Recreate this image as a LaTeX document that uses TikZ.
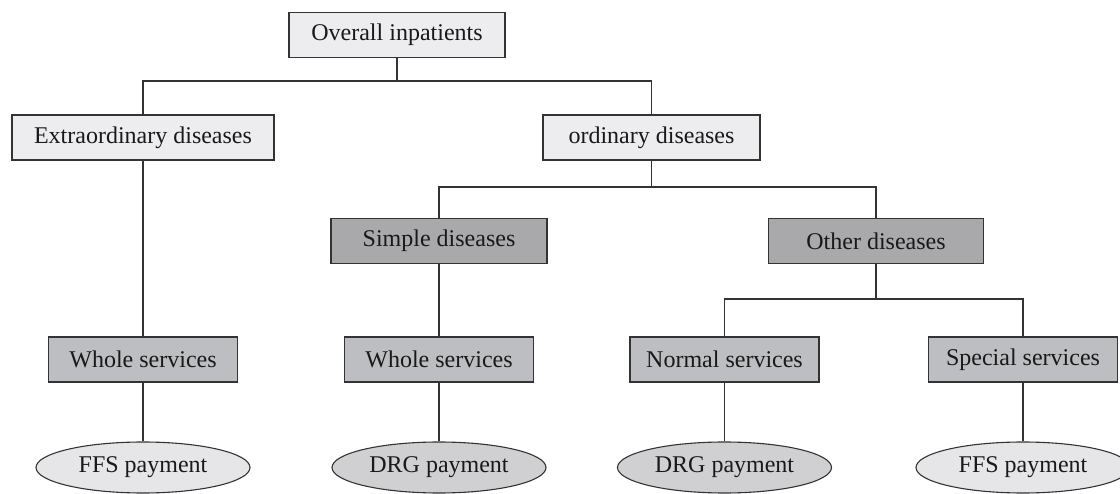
\documentclass[tikz,border=0pt]{standalone}
\usepackage{fontspec}
\setmainfont{Liberation Serif}
\usetikzlibrary{shapes.geometric}
\definecolor{lightbox}{HTML}{EDEDEF}
\definecolor{darkbox}{HTML}{A9A9AC}
\definecolor{midbox}{HTML}{BDBEC1}
\definecolor{ffsfill}{HTML}{E6E6E8}
\definecolor{drgfill}{HTML}{D0D0D3}
\definecolor{linec}{HTML}{333333}
\tikzset{
  basebox/.style={draw=linec, line width=1.1pt, rectangle, minimum height=45pt, inner sep=0pt, font=\fontsize{24}{28}\selectfont, text=black!90},
  lightnode/.style={basebox, fill=lightbox},
  darknode/.style={basebox, fill=darkbox},
  midnode/.style={basebox, fill=midbox, minimum width=189pt},
  paynode/.style={draw=linec, line width=1.1pt, ellipse, minimum width=214pt, minimum height=51pt, inner sep=0pt, font=\fontsize{24}{28}\selectfont, text=black!90},
  conn/.style={draw=linec, line width=1.3pt}
}
\begin{document}
\begin{tikzpicture}[x=1pt,y=-1pt]
\useasboundingbox (0,0) rectangle (1120,494);
\node[lightnode, minimum width=216pt] (over) at (397,35) {Overall inpatients};
\node[lightnode, minimum width=262pt] (extra) at (143,137.5) {Extraordinary diseases};
\node[lightnode, minimum width=217pt] (ord) at (651.5,137.5) {ordinary diseases};
\node[darknode, minimum width=216pt] (simple) at (439,241) {Simple diseases};
\node[darknode, minimum width=215pt] (other) at (876,241) {Other diseases};
\node[midnode] (whole1) at (143,359.5) {Whole services};
\node[midnode] (whole2) at (439,359.5) {Whole services};
\node[midnode] (normal) at (724.5,359.5) {Normal services};
\node[midnode] (special) at (1023,359.5) {Special services};
\node[paynode, fill=ffsfill] (pay1) at (143,467.5) {FFS payment};
\node[paynode, fill=drgfill] (pay2) at (439,467.5) {DRG payment};
\node[paynode, fill=drgfill] (pay3) at (724.5,467.5) {DRG payment};
\node[paynode, fill=ffsfill] (pay4) at (1023,467.5) {FFS payment};
\coordinate (j1) at (397,81);
\coordinate (j2) at (651.5,187);
\coordinate (j3) at (876,299);
\draw[conn] (over.south) -- (j1);
\draw[conn] (extra.north) |- (j1) -| (ord.north);
\draw[conn] (ord.south) -- (j2);
\draw[conn] (simple.north) |- (j2) -| (other.north);
\draw[conn] (other.south) -- (j3);
\draw[conn] (normal.north) |- (j3) -| (special.north);
\draw[conn] (extra.south) -- (whole1.north);
\draw[conn] (simple.south) -- (whole2.north);
\draw[conn] (whole1.south) -- (pay1.north);
\draw[conn] (whole2.south) -- (pay2.north);
\draw[conn] (normal.south) -- (pay3.north);
\draw[conn] (special.south) -- (pay4.north);
\end{tikzpicture}
\end{document}
